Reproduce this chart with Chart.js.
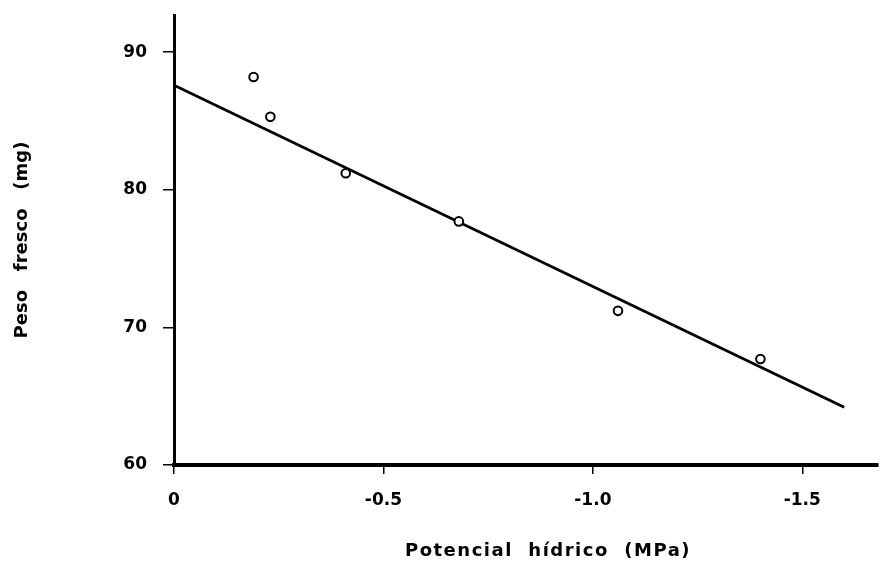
<!DOCTYPE html>
<html>
<head>
<meta charset="utf-8">
<script src="https://cdn.jsdelivr.net/npm/chart.js@4"></script>
<style>
html,body{margin:0;padding:0;background:#fff;}
#c{display:block;}
</style>
</head>
<body>
<canvas id="c" width="884" height="577"></canvas>
<script>
const waterPotential = [-0.19, -0.23, -0.41, -0.68, -1.06, -1.40];
const freshWeight = [88.2, 85.3, 81.2, 77.7, 71.2, 67.7];
const fitX = [0, -1.60];
const fitY = [87.6, 64.2];
const xTickValues = [0, -0.5, -1.0, -1.5];
const yTickValues = [60, 70, 80, 90];
const xTitle = 'Potencial  hídrico  (MPa)';
const yTitle = 'Peso   fresco   (mg)';

const FONT = '"DejaVu Sans", "Liberation Sans", sans-serif';

const xTitlePlugin = {
  id: 'xTitlePlugin',
  afterDraw(chart) {
    const ctx = chart.ctx;
    ctx.save();
    ctx.font = 'bold 18px ' + FONT;
    try { ctx.letterSpacing = '1.5px'; } catch (e) {}
    ctx.fillStyle = '#000';
    ctx.textAlign = 'center';
    ctx.textBaseline = 'middle';
    ctx.fillText(xTitle, 548, 551);
    ctx.restore();
  }
};

new Chart(document.getElementById('c'), {
  type: 'scatter',
  data: {
    datasets: [
      {
        type: 'line',
        data: fitX.map((x, i) => ({x: x, y: fitY[i]})),
        borderColor: '#000',
        borderWidth: 2.8,
        pointRadius: 0,
        fill: false,
        order: 2
      },
      {
        data: waterPotential.map((x, i) => ({x: x, y: freshWeight[i]})),
        pointRadius: 4.3,
        pointBorderWidth: 2,
        pointBorderColor: '#000',
        pointBackgroundColor: '#fff',
        order: 1
      }
    ]
  },
  options: {
    responsive: false,
    animation: false,
    devicePixelRatio: 1,
    layout: {padding: {left: 0, right: 1, top: 15, bottom: 0}},
    plugins: {legend: {display: false}, tooltip: {enabled: false}},
    scales: {
      x: {
        type: 'linear',
        reverse: true,
        min: -1.68,
        max: 0,
        afterBuildTicks: s => { s.ticks = xTickValues.map(v => ({value: v})); },
        afterFit: s => { s.height = 112; s.paddingLeft = 0; s.paddingRight = 0; },
        grid: {drawOnChartArea: false, drawTicks: true, tickLength: 9, color: '#000', lineWidth: 1.5},
        border: {display: true, color: '#000', width: 4},
        ticks: {
          color: '#000',
          font: {family: FONT, size: 17, weight: 'bold'},
          padding: 16,
          maxRotation: 0,
          callback: v => v === 0 ? '0' : v.toFixed(1)
        }
      },
      y: {
        type: 'linear',
        min: 60,
        max: 92.7,
        afterBuildTicks: s => { s.ticks = yTickValues.map(v => ({value: v})); },
        afterFit: s => { s.width = 174; s.paddingTop = 0; s.paddingBottom = 0; },
        grid: {drawOnChartArea: false, drawTicks: true, tickLength: 11, color: '#000', lineWidth: 1.5},
        border: {display: true, color: '#000', width: 3},
        ticks: {
          color: '#000',
          font: {family: FONT, size: 17, weight: 'bold'},
          padding: 16,
          callback: v => String(v)
        },
        title: {
          display: true,
          text: yTitle,
          color: '#000',
          font: {family: FONT, size: 18, weight: 'bold'},
          padding: {top: 12, bottom: 0}
        }
      }
    }
  },
  plugins: [xTitlePlugin]
});
</script>
</body>
</html>
